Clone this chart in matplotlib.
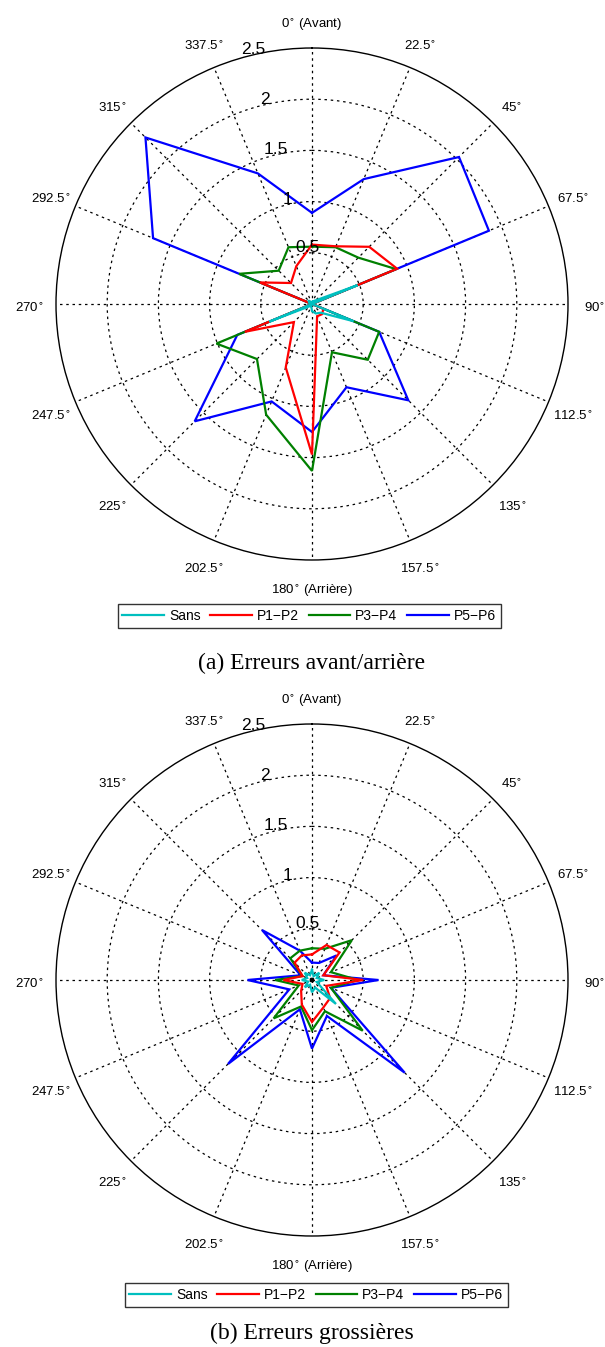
import numpy as np
import matplotlib
matplotlib.use("Agg")
import matplotlib.pyplot as plt
from matplotlib.transforms import ScaledTranslation

plt.rcParams['font.family'] = ['Liberation Sans', 'DejaVu Sans']

angles_deg = [0, 22.5, 45, 67.5, 90, 112.5, 135, 157.5, 180, 202.5, 225, 247.5, 270, 292.5, 315, 337.5]
series_names = ["Sans", "P1\u2212P2", "P3\u2212P4", "P5\u2212P6"]
series_colors = ["#00BFBF", "#FF0000", "#008000", "#0000FF"]

# (a) Erreurs avant/arriere
sans_a = [0.02, 0.03, 0.05, 0.48, 0.0, 0.44, 0.12, 0.10, 0.07, 0.02, 0.03, 0.45, 0.0, 0.03, 0.05, 0.02]
p12_a = [0.58, 0.61, 0.79, 0.90, 0.0, 0.12, 0.14, 0.13, 1.47, 0.67, 0.25, 0.71, 0.0, 0.55, 0.29, 0.40]
p34_a = [0.56, 0.60, 0.64, 0.89, 0.0, 0.71, 0.77, 0.51, 1.63, 1.17, 0.76, 1.01, 0.0, 0.77, 0.46, 0.60]
p56_a = [0.89, 1.32, 2.03, 1.87, 0.0, 0.71, 1.33, 0.88, 1.25, 1.03, 1.62, 0.79, 0.0, 1.68, 2.30, 1.38]

# (b) Erreurs grossieres
sans_b = [0.10, 0.04, 0.10, 0.05, 0.12, 0.05, 0.33, 0.08, 0.12, 0.05, 0.10, 0.04, 0.10, 0.05, 0.10, 0.05]
p12_b = [0.25, 0.37, 0.38, 0.12, 0.50, 0.15, 0.25, 0.29, 0.41, 0.26, 0.15, 0.10, 0.28, 0.10, 0.24, 0.26]
p34_b = [0.31, 0.33, 0.55, 0.20, 0.45, 0.20, 0.70, 0.33, 0.49, 0.28, 0.53, 0.14, 0.36, 0.10, 0.30, 0.31]
p56_b = [0.17, 0.18, 0.34, 0.12, 0.65, 0.20, 1.28, 0.38, 0.67, 0.31, 1.16, 0.24, 0.63, 0.12, 0.69, 0.31]

r_ticks = [0.5, 1, 1.5, 2, 2.5]
r_tick_labels = ["0.5", "1", "1.5", "2", "2.5"]
angle_labels = ["0$^{\\circ}$ (Avant)", "22.5$^{\\circ}$", "45$^{\\circ}$", "67.5$^{\\circ}$", "90$^{\\circ}$",
                "112.5$^{\\circ}$", "135$^{\\circ}$", "157.5$^{\\circ}$", "180$^{\\circ}$ (Arri\u00e8re)",
                "202.5$^{\\circ}$", "225$^{\\circ}$", "247.5$^{\\circ}$", "270$^{\\circ}$", "292.5$^{\\circ}$",
                "315$^{\\circ}$", "337.5$^{\\circ}$"]
captions = ["(a) Erreurs avant/arri\u00e8re", "(b) Erreurs grossi\u00e8res"]

W, H = 605, 1347
fig = plt.figure(figsize=(W / 100, H / 100), dpi=100)

R_PX = 256.0
centers = [(312, 304), (312, 980)]
legend_centers = [(309, 616), (316, 1295)]
caption_y = [663, 1333]


def make_panel(idx, data):
    cx, cy = centers[idx]
    rect = [(cx - R_PX) / W, 1 - (cy + R_PX) / H, 2 * R_PX / W, 2 * R_PX / H]
    ax = fig.add_axes(rect, projection='polar')
    ax.set_theta_zero_location('N')
    ax.set_theta_direction(-1)
    ax.set_ylim(0, 2.5)
    ax.set_yticks(r_ticks[:-1])
    ax.set_yticklabels([])
    ax.set_xticks(np.deg2rad(angles_deg))
    ax.set_xticklabels([])
    ax.tick_params(length=0)
    ax.grid(True, color='black', linestyle=(0, (2, 3)), linewidth=0.9)
    ax.spines['polar'].set_color('black')
    ax.spines['polar'].set_linewidth(1.0)
    ax.set_facecolor('white')
    th = np.deg2rad(angles_deg + [angles_deg[0]])
    handles = []
    zorders = [6, 5, 4, 3]
    for k, vals in enumerate(data):
        v = list(vals) + [vals[0]]
        ln, = ax.plot(th, v, color=series_colors[k], linewidth=1.6, zorder=zorders[k],
                      solid_joinstyle='miter')
        handles.append(ln)
    # radial labels
    for rv, lab in zip(r_ticks, r_tick_labels):
        ang = -5 if rv == 0.5 else -13
        ax.text(np.deg2rad(ang), rv + 0.05, lab, ha='center', va='center', fontsize=12.5,
                color='black', zorder=10)
    # angle labels (slightly elliptical placement, shifted down a little)
    shift = ax.transData + ScaledTranslation(0, -4 / 100, fig.dpi_scale_trans)
    rx, ry = 2.76, 2.76
    for a, lab in zip(angles_deg, angle_labels):
        t = np.deg2rad(a)
        xx, yy = rx * np.sin(t), ry * np.cos(t)
        ax.text(np.arctan2(xx, yy), np.hypot(xx, yy), lab, ha='center', va='center',
                fontsize=9.5, color='black', clip_on=False, transform=shift)
    # legend
    lx, ly = legend_centers[idx]
    leg = fig.legend(handles, series_names, loc='center', bbox_to_anchor=(lx / W, 1 - ly / H),
                     ncol=4, frameon=True, fancybox=False, edgecolor='black',
                     fontsize=10, handlelength=3.0, handletextpad=0.35, columnspacing=0.7,
                     borderpad=0.35, borderaxespad=0)
    leg.get_frame().set_linewidth(1.0)
    fig.text(312 / W, 1 - caption_y[idx] / H, captions[idx], ha='center', va='center',
             fontsize=17, family=['Liberation Serif', 'DejaVu Serif'])
    return ax


make_panel(0, [sans_a, p12_a, p34_a, p56_a])
make_panel(1, [sans_b, p12_b, p34_b, p56_b])

fig.savefig('out.png', dpi=100, facecolor='white')
